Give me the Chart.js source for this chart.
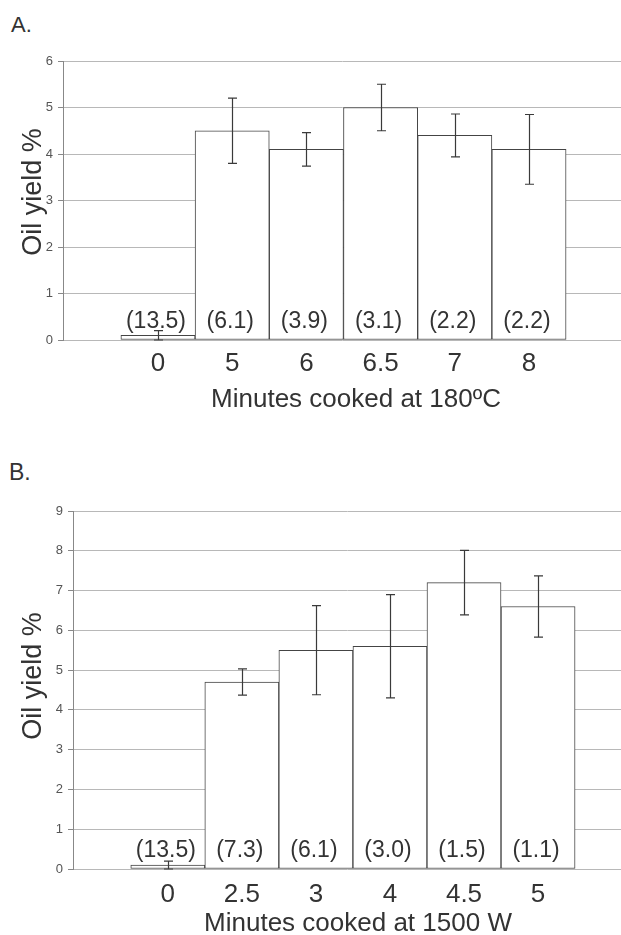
<!DOCTYPE html>
<html>
<head>
<meta charset="utf-8">
<script src="https://cdn.jsdelivr.net/npm/chart.js@4.4.1/dist/chart.umd.min.js"></script>
<style>
  html, body { margin: 0; padding: 0; background: #fff; width: 621px; height: 935px; overflow: hidden; }
  .panel { position: absolute; left: 0; width: 621px; }
  .tag { position: absolute; font-family: "Liberation Sans", Arial, sans-serif; font-size: 22px; line-height: 22px; color: #333; }
</style>
</head>
<body>
<div class="tag" style="left:11px; top:14px;">A.</div>
<div class="tag" style="left:9px; top:461px; font-size:23px;">B.</div>
<div class="panel" style="top:0px; height:410px;"><canvas id="chartA"></canvas></div>
<div class="panel" style="top:437px; height:498px;"><canvas id="chartB"></canvas></div>
<script>
// ---- Panel A data ----
const categoriesA = ['0', '5', '6', '6.5', '7', '8'];
const valuesA = [0.1, 4.5, 4.1, 5.0, 4.4, 4.1];
const errorsA = [0.1, 0.7, 0.36, 0.5, 0.46, 0.75];
const notesA = ['(13.5)', '(6.1)', '(3.9)', '(3.1)', '(2.2)', '(2.2)'];
const yTicksA = [0, 1, 2, 3, 4, 5, 6];
const xTitleA = 'Minutes cooked at 180ºC';

// ---- Panel B data ----
const categoriesB = ['0', '2.5', '3', '4', '4.5', '5'];
const valuesB = [0.1, 4.7, 5.5, 5.6, 7.2, 6.6];
const errorsB = [0.1, 0.33, 1.12, 1.3, 0.81, 0.77];
const notesB = ['(13.5)', '(7.3)', '(6.1)', '(3.0)', '(1.5)', '(1.1)'];
const yTicksB = [0, 1, 2, 3, 4, 5, 6, 7, 8, 9];
const xTitleB = 'Minutes cooked at 1500 W';

const yTitle = 'Oil yield %';
const FONT = '"Liberation Sans", Arial, sans-serif';

const errorBarPlugin = {
  id: 'errorBars',
  afterDatasetsDraw(chart, args, opts) {
    const ctx = chart.ctx;
    const meta = chart.getDatasetMeta(0);
    const ys = chart.scales.y;
    const vals = chart.data.datasets[0].data;
    const errs = opts.errors;
    ctx.save();
    ctx.strokeStyle = '#3a3a3a';
    ctx.lineWidth = 1.2;
    meta.data.forEach((bar, i) => {
      const x = Math.round(bar.x) + 0.5;
      const top = ys.getPixelForValue(vals[i] + errs[i]);
      const bot = ys.getPixelForValue(vals[i] - errs[i]);
      ctx.beginPath();
      ctx.moveTo(x, top); ctx.lineTo(x, bot);
      ctx.moveTo(x - 4.5, top); ctx.lineTo(x + 4.5, top);
      ctx.moveTo(x - 4.5, bot); ctx.lineTo(x + 4.5, bot);
      ctx.stroke();
    });
    ctx.fillStyle = '#333';
    ctx.font = '23px ' + FONT;
    ctx.textAlign = 'center';
    ctx.textBaseline = 'middle';
    const y0 = ys.getPixelForValue(0);
    meta.data.forEach((bar, i) => {
      ctx.fillText(opts.notes[i], bar.x - 2, y0 - 18);
    });
    ctx.restore();
  },
  afterDraw(chart, args, opts) {
    const ctx = chart.ctx;
    ctx.save();
    ctx.fillStyle = '#333';
    ctx.textAlign = 'center';
    ctx.textBaseline = 'alphabetic';
    // x-axis title
    ctx.font = '26px ' + FONT;
    ctx.fillText(opts.xTitle, opts.xTitlePos[0], opts.xTitlePos[1]);
    // y-axis title (rotated)
    ctx.font = '27px ' + FONT;
    ctx.translate(opts.yTitlePos[0], opts.yTitlePos[1]);
    ctx.rotate(-Math.PI / 2);
    ctx.fillText(opts.yTitle, 0, 0);
    ctx.restore();
  }
};

function makeChart(id, cats, vals, errs, notes, yticks, xTitle, cfg) {
  const n = cats.length;
  return new Chart(document.getElementById(id), {
    type: 'bar',
    data: {
      labels: cats,
      datasets: [{
        data: vals,
        backgroundColor: '#ffffff',
        borderColor: '#444',
        borderWidth: 1,
        borderSkipped: false,
        barPercentage: 1,
        categoryPercentage: 1
      }]
    },
    options: {
      responsive: true,
      maintainAspectRatio: false,
      animation: false,
      layout: { padding: { top: cfg.padTop, left: 0, right: 0, bottom: 0 } },
      plugins: {
        legend: { display: false },
        tooltip: { enabled: false },
        errorBars: {
          errors: errs, notes: notes,
          xTitle: xTitle, yTitle: yTitle,
          xTitlePos: cfg.xTitlePos, yTitlePos: cfg.yTitlePos
        }
      },
      scales: {
        x: {
          type: 'category',
          offset: true,
          grid: { display: false, drawTicks: false },
          border: { display: false },
          ticks: { font: { family: FONT, size: 26 }, color: '#333', padding: cfg.xTickPad, maxRotation: 0, autoSkip: false },
          title: { display: false },
          afterBuildTicks(scale) {
            scale._startValue = -0.5 - cfg.padL;
            scale._valueRange = n + cfg.padL + cfg.padR;
          },
          afterFit(scale) { scale.height = cfg.xH; }
        },
        y: {
          min: 0,
          max: yticks[yticks.length - 1],
          afterBuildTicks(scale) { scale.ticks = yticks.map(v => ({ value: v })); },
          grid: { color: '#b8b8b8', lineWidth: 1, tickLength: 5, tickColor: '#888' },
          border: { display: true, color: '#888', width: 1 },
          ticks: { font: { family: FONT, size: 13 }, color: '#555', padding: 5 },
          title: { display: false },
          afterFit(scale) { scale.width = cfg.yW; }
        }
      }
    },
    plugins: [errorBarPlugin]
  });
}

makeChart('chartA', categoriesA, valuesA, errorsA, notesA, yTicksA, xTitleA,
  { padTop: 61, padL: 0.78, padR: 0.74, xH: 70, yW: 63, xTickPad: 8,
    xTitlePos: [356, 407], yTitlePos: [41, 192] });
makeChart('chartB', categoriesB, valuesB, errorsB, notesB, yTicksB, xTitleB,
  { padTop: 74, padL: 0.78, padR: 0.62, xH: 66, yW: 73, xTickPad: 10,
    xTitlePos: [358, 494], yTitlePos: [41, 239] });
</script>
</body>
</html>
